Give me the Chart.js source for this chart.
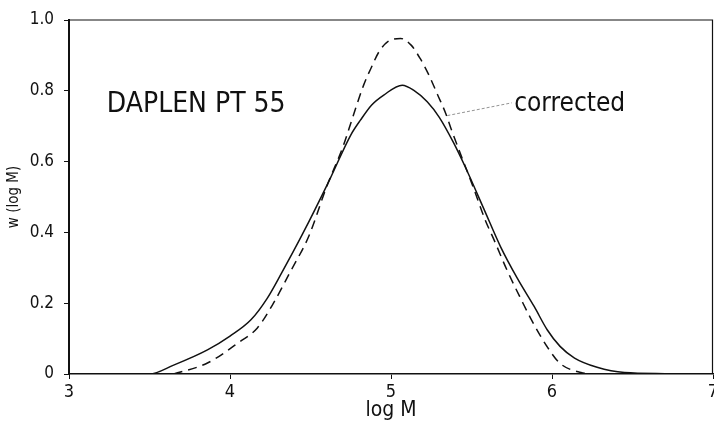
<!DOCTYPE html>
<html>
<head>
<meta charset="utf-8">
<script src="https://cdn.jsdelivr.net/npm/chart.js@4"></script>
<style>
  html, body { margin: 0; padding: 0; background: #fff; }
  #wrap { width: 714px; height: 428px; }
</style>
</head>
<body>
<div id="wrap"><canvas id="gpc"></canvas></div>
<script>
  // log M values and w(log M)
  var measuredX = [3.0, 3.5, 3.65, 3.86, 4.0, 4.13, 4.23, 4.32, 4.45, 4.62, 4.75, 4.81, 4.88, 4.955, 5.07, 5.14, 5.225, 5.30, 5.39, 5.46, 5.58, 5.68, 5.785, 5.89, 5.97, 6.05, 6.14, 6.28, 6.45, 6.7, 7.0];
  var measuredY = [0, 0, 0.025, 0.068, 0.107, 0.153, 0.213, 0.285, 0.395, 0.55, 0.675, 0.717, 0.76, 0.788, 0.816, 0.802, 0.769, 0.725, 0.652, 0.586, 0.463, 0.36, 0.27, 0.19, 0.125, 0.078, 0.045, 0.019, 0.004, 0.001, 0];

  var correctedX = [3.65, 3.86, 4.06, 4.17, 4.27, 4.37, 4.49, 4.6, 4.7, 4.74, 4.78, 4.83, 4.88, 4.925, 4.98, 5.06, 5.125, 5.18, 5.235, 5.29, 5.34, 5.38, 5.45, 5.51, 5.585, 5.64, 5.72, 5.81, 5.87, 5.97, 6.05, 6.18, 6.25];
  var correctedY = [0, 0.031, 0.091, 0.13, 0.2, 0.285, 0.39, 0.529, 0.64, 0.694, 0.75, 0.816, 0.868, 0.91, 0.939, 0.948, 0.929, 0.892, 0.845, 0.788, 0.736, 0.684, 0.6, 0.529, 0.435, 0.379, 0.294, 0.209, 0.155, 0.077, 0.03, 0.004, 0];

  var xTicks = [3, 4, 5, 6, 7];
  var yTicks = [0, 0.2, 0.4, 0.6, 0.8, 1.0];
  var yTickLabels = ['0', '0.2', '0.4', '0.6', '0.8', '1.0'];

  var sampleName = 'DAPLEN PT 55';
  var curveNote = 'corrected';

  var FONT = '"Liberation Sans Narrow", "DejaVu Sans Condensed", "DejaVu Sans", sans-serif';
  var INK = '#111';

  function pairs(xs, ys) {
    return xs.map(function (x, i) { return { x: x, y: ys[i] }; });
  }

  // frame + text labels, placed in data units
  var notes = {
    id: 'notes',
    afterDatasetsDraw: function (chart) {
      var c = chart.ctx, a = chart.chartArea;
      var xs = chart.scales.x, ys = chart.scales.y;
      c.save();
      c.strokeStyle = INK;
      c.lineWidth = 1.2;
      c.beginPath();
      c.moveTo(a.left, a.top); c.lineTo(a.right - 0.5, a.top); c.lineTo(a.right - 0.5, a.bottom);
      c.stroke();

      c.fillStyle = INK;
      c.textBaseline = 'middle';
      c.font = '28px ' + FONT;
      c.fillText(sampleName, xs.getPixelForValue(3.235), ys.getPixelForValue(0.761));
      c.font = '26px ' + FONT;
      c.fillText(curveNote, xs.getPixelForValue(5.765), ys.getPixelForValue(0.762));

      // thin leader line to the dashed curve
      c.strokeStyle = '#777';
      c.lineWidth = 0.8;
      c.setLineDash([3, 2]);
      c.beginPath();
      c.moveTo(xs.getPixelForValue(5.35), ys.getPixelForValue(0.73));
      c.lineTo(xs.getPixelForValue(5.75), ys.getPixelForValue(0.766));
      c.stroke();
      c.restore();
    }
  };

  new Chart(document.getElementById('gpc'), {
    type: 'line',
    data: {
      datasets: [
        {
          label: 'measured',
          data: pairs(measuredX, measuredY),
          borderColor: INK,
          borderWidth: 1.5,
          pointRadius: 0,
          cubicInterpolationMode: 'monotone',
          fill: false
        },
        {
          label: 'corrected',
          data: pairs(correctedX, correctedY),
          borderColor: INK,
          borderWidth: 1.5,
          borderDash: [9, 6],
          pointRadius: 0,
          cubicInterpolationMode: 'monotone',
          fill: false
        }
      ]
    },
    options: {
      responsive: true,
      maintainAspectRatio: false,
      animation: false,
      events: [],
      layout: { padding: { top: 20, right: 1, left: 0, bottom: 0 } },
      plugins: { legend: { display: false }, tooltip: { enabled: false } },
      scales: {
        x: {
          type: 'linear',
          min: 3, max: 7,
          afterBuildTicks: function (s) { s.ticks = xTicks.map(function (v) { return { value: v }; }); },
          afterFit: function (s) { s.height = 54; s.paddingLeft = 0; s.paddingRight = 0; },
          ticks: { color: INK, font: { family: FONT, size: 18 }, padding: 3, maxRotation: 0 },
          grid: { display: true, drawOnChartArea: false, tickLength: 5, color: INK, lineWidth: 1 },
          border: { display: true, color: INK, width: 1.6 },
          title: { display: true, text: 'log M', color: INK, font: { family: FONT, size: 21 }, padding: { top: 0, bottom: 5 } }
        },
        y: {
          type: 'linear',
          min: 0, max: 1.0,
          afterBuildTicks: function (s) { s.ticks = yTicks.map(function (v) { return { value: v }; }); },
          afterFit: function (s) { s.width = 69; s.paddingTop = 0; s.paddingBottom = 0; },
          ticks: {
            color: INK, font: { family: FONT, size: 17 }, padding: 10,
            callback: function (v) { return yTickLabels[yTicks.indexOf(v)]; }
          },
          grid: { display: true, drawOnChartArea: false, tickLength: 5, color: INK, lineWidth: 1 },
          border: { display: true, color: INK, width: 2 },
          title: { display: true, text: 'w (log M)', color: INK, font: { family: FONT, size: 15 }, padding: { top: 5, bottom: 0 } }
        }
      }
    },
    plugins: [notes]
  });
</script>
</body>
</html>
